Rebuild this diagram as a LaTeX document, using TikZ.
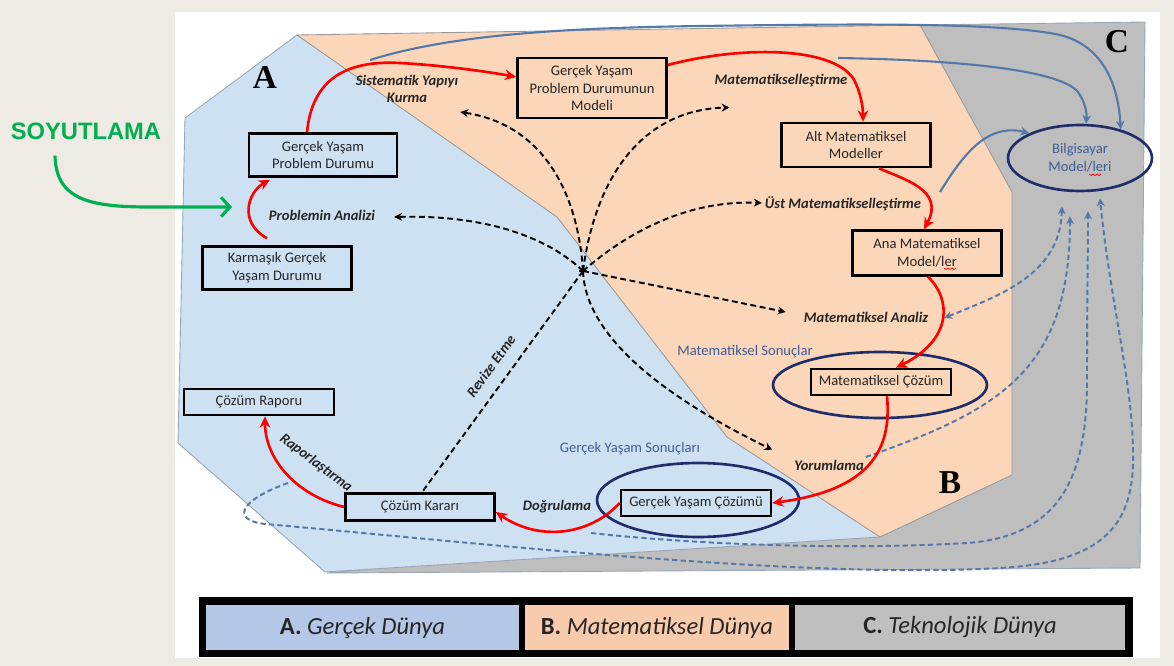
\documentclass[tikz,border=0pt]{standalone}
\usepackage{fontspec}
\setmainfont{Carlito}
\newfontfamily\timesbold{Liberation Serif}[BoldFont={* Bold}]
\newfontfamily\arialbold{Liberation Sans}
\usetikzlibrary{arrows.meta,calc,shapes.geometric}

\definecolor{beige}{HTML}{EEEAE4}
\definecolor{worldA}{HTML}{CEE1F3}
\definecolor{worldB}{HTML}{FBD6B8}
\definecolor{worldC}{HTML}{BEBEBE}
\definecolor{keyA}{HTML}{B4C7E7}
\definecolor{keyB}{HTML}{F8CBAD}
\definecolor{keyC}{HTML}{BFBFBF}
\definecolor{edgegray}{HTML}{98A6B6}
\definecolor{arred}{HTML}{FF0000}
\definecolor{steel}{HTML}{5479A8}
\definecolor{navy}{HTML}{1F2D6B}
\definecolor{slate}{HTML}{3F5E96}
\definecolor{txt}{HTML}{262626}
\definecolor{soygreen}{HTML}{00B050}

\newcommand{\boxfont}{\fontsize{8.3}{10.2}\selectfont}
\newcommand{\lblfont}{\fontsize{8.3}{10}\selectfont\bfseries\itshape}
\newcommand{\worldletter}{\fontsize{19}{20}\selectfont\timesbold\bfseries}

\begin{document}
\begin{tikzpicture}[x=0.02cm,y=-0.02cm,
  box/.style={draw=black, line width=1.4pt, inner sep=1pt, align=center,
    font=\boxfont, text=txt},
  lbl/.style={font=\lblfont, text=txt, inner sep=1pt, align=center},
  note/.style={font=\boxfont, text=slate, inner sep=1pt},
  ring/.style={ellipse, draw=navy, line width=1.5pt, inner sep=0pt},
  redarr/.style={draw=arred, line width=1.5pt, -{Stealth[length=6.5pt,width=6pt]}},
  blkdash/.style={draw=black, line width=1.1pt, dash pattern=on 3.4pt off 2pt,
    -{Stealth[length=4.5pt,width=4.5pt]}},
  bluedash/.style={draw=steel, line width=1.1pt, dash pattern=on 3pt off 1.8pt},
  bluesolid/.style={draw=steel, line width=1.2pt, -{Stealth[length=5pt,width=5pt]}},
  keycell/.style={minimum height=0.9cm, inner sep=0pt, font=\fontsize{14}{16}\selectfont\itshape, text=txt}
]
\useasboundingbox (0,0) rectangle (1174,666);

% page and panel
\fill[beige] (0,0) rectangle (1174,666);
\fill[white] (175,12) rectangle (1160,658);

% the three worlds
\filldraw[fill=worldC, draw=edgegray, line width=0.5pt]
  (920,25) -- (1145,22) -- (1140,568) -- (327,573) -- (880,520) -- (1000,200) -- cycle;
\filldraw[fill=worldA, draw=edgegray, line width=0.5pt]
  (297,35) -- (185,118) -- (178,443) -- (325,572) -- (880,537) -- (880,300) -- (600,100) -- cycle;
\filldraw[fill=worldB, draw=gray!80, line width=0.5pt]
  (297,35) -- (920,25) -- (1012,192) -- (1012,475) -- (880,537) -- (727,437) -- (557,217) -- cycle;

\node[font=\worldletter] (letA) at (265,77) {A};
\node[font=\worldletter] (letB) at (950,483) {B};
\node[font=\worldletter] (letC) at (1117,42) {C};

% modelling steps
\node[box, minimum width=2.96cm, minimum height=0.86cm] (gypd) at (323,155) {Gerçek Yaşam\\Problem Durumu};
\node[box, minimum width=2.98cm, minimum height=0.86cm] (kgy) at (277,268) {Karmaşık Gerçek\\Yaşam Durumu};
\node[box, minimum width=2.98cm, minimum height=1.2cm] (model) at (592,88) {Gerçek Yaşam\\Problem Durumunun\\Modeli};
\node[box, minimum width=2.98cm, minimum height=0.88cm] (alt) at (856,145) {Alt Matematiksel\\Modeller};
\node[box, minimum width=2.98cm, minimum height=0.9cm] (ana) at (927,253) {Ana Matematiksel\\Model/ler};
\node[box, minimum width=2.8cm, minimum height=0.52cm] (mc) at (881,382) {Matematiksel Çözüm};
\node[box, minimum width=3.0cm, minimum height=0.52cm] (gyc) at (696,503) {Gerçek Yaşam Çözümü};
\node[box, minimum width=2.98cm, minimum height=0.54cm] (ck) at (420,507) {Çözüm Kararı};
\node[box, minimum width=3.0cm, minimum height=0.52cm] (cr) at (259,402) {Çözüm Raporu};

% result rings and computer models
\node[ring, minimum width=4.28cm, minimum height=1.32cm] (mce) at (880,385) {};
\node[ring, minimum width=4.04cm, minimum height=1.48cm] (gye) at (698,500) {};
\node[ring, minimum width=2.88cm, minimum height=1.32cm, align=center,
  font=\boxfont, text=slate] (bm) at (1080,158) {Bilgisayar\\Model/leri};
\draw[arred, line width=0.4pt] (1089,174) -- (1091,175.5) -- (1093,174) -- (1095,175.5) -- (1097,174) -- (1099,175.5) -- (1101,174);
\draw[arred, line width=0.4pt] (944,268) -- (946,269.5) -- (948,268) -- (950,269.5) -- (952,268) -- (954,269.5) -- (956,268);

% step labels
\node[lbl] (sis) at (407,89) {Sistematik Yapıyı\\Kurma};
\node[lbl] (mat) at (781,81) {Matematikselleştirme};
\node[lbl] (pa) at (322,215) {Problemin Analizi};
\node[lbl] (ust) at (843,204) {Üst Matematikselleştirme};
\node[lbl] (ma) at (866,317) {Matematiksel Analiz};
\node[lbl] (yor) at (829,465) {Yorumlama};
\node[lbl] (dog) at (557,507) {Doğrulama};
\node[lbl, rotate=-37] (rap) at (316,463) {Raporlaştırma};
\node[lbl, rotate=54] (rev) at (491,366) {Revize Etme};
\node[note] (ms) at (745,352) {Matematiksel Sonuçlar};
\node[note] (gys) at (630,449) {Gerçek Yaşam Sonuçları};

% abstraction
\node[font=\fontsize{13.5}{15}\selectfont\arialbold\bfseries, text=soygreen] (soy) at (86,131) {SOYUTLAMA};
\coordinate (soyend) at (232,207);
\draw[soygreen, line width=1.8pt, -{Straight Barb[length=5pt,width=11pt,line width=1.8pt]}]
  ($(soy.south)+(-31,10)$) .. controls (56,200) and (90,207) .. (150,207) -- (soyend);

% technology links (dashed)
\draw[bluedash, {Stealth[length=4.5pt,width=4.5pt]}-{Stealth[length=4.5pt,width=4.5pt]}]
  ($(ma.east)+(14,1)$) .. controls (1000,295) and (1060,275) .. ($(bm.south)+(-18,14)$);
\draw[bluedash, -{Stealth[length=4.5pt,width=4.5pt]}]
  ($(yor.east)+(0,-8)$) .. controls (1000,410) and (1070,370) .. ($(bm.south)+(-10,24)$);
\coordinate (gystart) at (591,533);
\draw[bluedash, -{Stealth[length=4.5pt,width=4.5pt]}]
  (gystart) .. controls (700,545) and (850,550) .. (967,543)
  .. controls (1065,536) and (1087,470) .. (1087,380)
  .. controls (1087,300) and (1088,250) .. ($(bm.south)+(8,19)$);
\coordinate (rpstart) at (288,483);
\draw[bluedash, -{Stealth[length=4.5pt,width=4.5pt]}]
  (rpstart) .. controls (240,500) and (230,520) .. (265,524)
  .. controls (450,540) and (800,580) .. (1000,568)
  .. controls (1110,562) and (1135,520) .. (1133,450)
  .. controls (1132,380) and (1110,300) .. ($(bm.south)+(20,6)$);

% technology links (solid)
\coordinate (topstart) at (370,60);
\draw[bluesolid] (topstart) .. controls (450,35) and (560,28) .. (700,26)
  .. controls (850,24) and (1000,22) .. (1060,35)
  .. controls (1100,45) and (1118,80) .. (bm.35);
\coordinate (midstart) at (838,58);
\draw[bluesolid] (midstart) .. controls (960,60) and (1060,70) .. (1078,92)
  .. controls (1085,102) and (1087,112) .. (bm.80);
\coordinate (lowstart) at (940,192);
\draw[bluesolid] (lowstart) .. controls (960,160) and (985,122) .. (bm.154);

% revision hub
\coordinate (hub) at (583,271);
\draw[blkdash] (hub) .. controls (578,195) and (545,125) .. ($(sis.east)+(0,23)$);
\draw[blkdash] (hub) .. controls (595,180) and (640,110) .. ($(mat.south west)+(17,18)$);
\draw[blkdash] (hub) .. controls (630,230) and (690,200) .. ($(ust.west)+(-1,-1)$);
\draw[blkdash] (hub) -- ($(ma.west)+(-16,-5)$);
\draw[blkdash] (hub) .. controls (585,330) and (650,390) .. ($(yor.north west)+(-20,-8)$);
\draw[blkdash] (hub) .. controls (540,230) and (470,215) .. ($(pa.east)+(17,2)$);
\draw[draw=black, line width=1.1pt, dash pattern=on 3.4pt off 2pt] (hub) -- ($(ck.north)+(2,0)$);
\draw[line width=1.3pt] ($(hub)+(-4,0)$) -- ($(hub)+(4,0)$) ($(hub)+(0,-4)$) -- ($(hub)+(0,4)$);

% modelling cycle
\draw[redarr] ($(kgy.north)+(-10,-7)$) .. controls (238,222) and (248,192) .. ($(gypd.south)+(-53,2)$);
\draw[redarr] ($(gypd.north)+(-16,0)$) .. controls (312,80) and (345,60) .. (400,63)
  .. controls (440,65) and (490,72) .. ($(model.west)+(0,-11)$);
\draw[redarr] ($(model.east)+(0,-23)$) .. controls (740,46) and (830,46) .. (853,78)
  .. controls (861,92) and (863,108) .. ($(alt.north)+(7,0)$);
\draw[redarr] ($(alt.south)+(23,0)$) .. controls (905,180) and (945,190) .. ($(ana.north)+(-3,0)$);
\draw[redarr] ($(ana.south)+(1,0)$) .. controls (952,300) and (952,340) .. ($(mc.north)+(15,0)$);
\draw[redarr] ($(mc.south)+(6,0)$) .. controls (892,450) and (870,490) .. (gyc.east);
\draw[redarr] (gyc.west) .. controls (590,535) and (540,542) .. ($(ck.east)+(0,5)$);
\draw[redarr] (ck.west) .. controls (295,495) and (265,458) .. ($(cr.south)+(6,0)$);

% key
\fill[black] (199,597) rectangle (1133,657);
\node[keycell, fill=keyA, minimum width=6.26cm] (keyA) at (362.5,627.5) {\textbf{\upshape A.} Gerçek Dünya};
\node[keycell, fill=keyB, minimum width=5.28cm] (keyB) at (657,627.5) {\textbf{\upshape B.} Matematiksel Dünya};
\node[keycell, fill=keyC, minimum width=6.6cm] (keyC) at (960,627.5) {\textbf{\upshape C.} Teknolojik Dünya};
\end{tikzpicture}
\end{document}
